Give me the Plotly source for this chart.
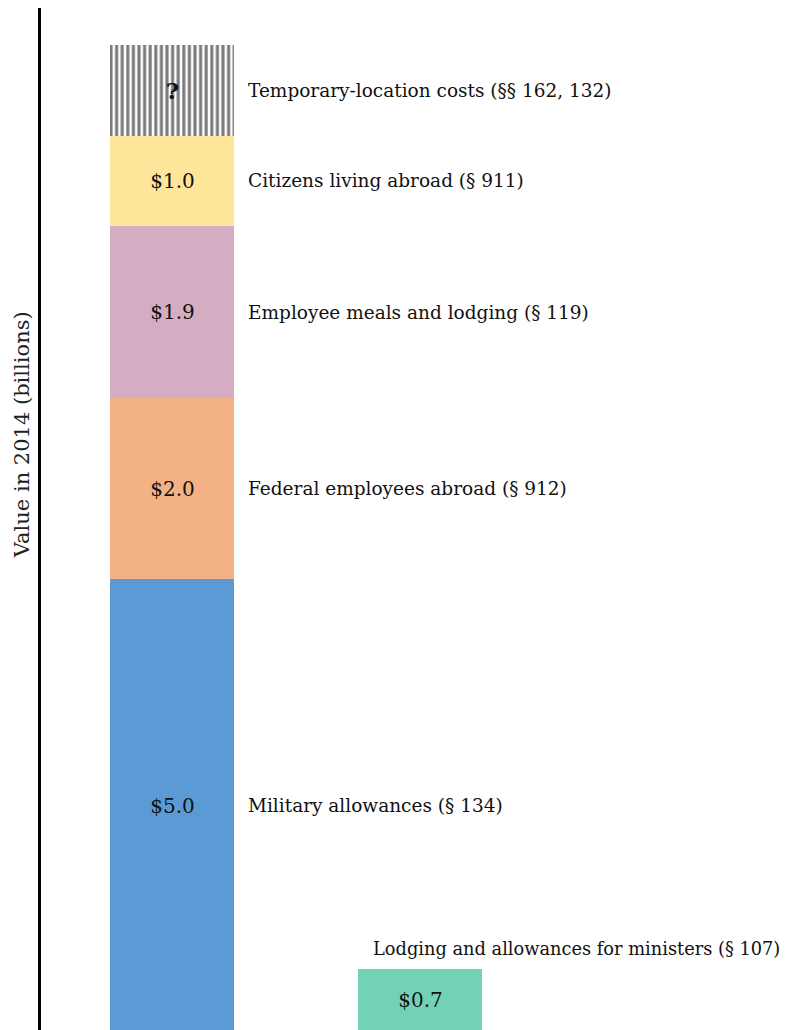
import plotly.graph_objects as go

# Data
segments = ["Military allowances (§ 134)", "Federal employees abroad (§ 912)",
            "Employee meals and lodging (§ 119)", "Citizens living abroad (§ 911)",
            "Temporary-location costs (§§ 162, 132)"]
values = [5.0, 2.0, 1.9, 1.0, 1.0]
value_labels = ["$5.0", "$2.0", "$1.9", "$1.0", "<b>?</b>"]
colors = ["#5B9BD5", "#F4B183", "#D5ADC3", "#FEE59A", "white"]
ministers_label = "Lodging and allowances for ministers (§ 107)"
ministers_value = 0.7
ministers_text = "$0.7"
ministers_color = "#73D2B5"
y_title = "Value in 2014 (billions)"

FONT = "DejaVu Serif"

fig = go.Figure()
for name, v, lab, c in zip(segments, values, value_labels, colors):
    marker = dict(color=c, line=dict(width=0))
    size = 20
    if lab == "<b>?</b>":
        marker["pattern"] = dict(shape="|", fgcolor="#7a7a7a", bgcolor="white",
                                 size=5.6, solidity=0.55, fgopacity=1)
        size = 23
    fig.add_trace(go.Bar(x=[0], y=[v], width=0.5, marker=marker, text=[lab],
                         textposition="inside", insidetextanchor="middle",
                         textangle=0,
                         textfont=dict(family=FONT, size=size, color="#111111"),
                         hoverinfo="skip", showlegend=False))

fig.add_trace(go.Bar(x=[1], y=[ministers_value], width=0.5,
                     marker=dict(color=ministers_color, line=dict(width=0)),
                     text=[ministers_text], textposition="inside",
                     insidetextanchor="middle", textangle=0,
                     textfont=dict(family=FONT, size=20, color="#111111"),
                     hoverinfo="skip", showlegend=False))

# side labels
cum = 0
for name, v in zip(segments, values):
    mid = cum + v / 2
    cum += v
    fig.add_annotation(x=0.295, y=mid, text=name, showarrow=False,
                       xanchor="left", yanchor="middle",
                       font=dict(family=FONT, size=18.5, color="#111111"))

fig.add_annotation(x=0.80, y=ministers_value, text=ministers_label, showarrow=False,
                   xanchor="left", yanchor="bottom", yshift=8,
                   font=dict(family=FONT, size=17.8, color="#111111"))

fig.add_annotation(xref="paper", yref="paper", x=-0.0252, y=0.583, text=y_title,
                   textangle=-90, showarrow=False, xanchor="center", yanchor="middle",
                   font=dict(family=FONT, size=21, color="#222222"))

# page body has an 8px default margin; the figure is sized to fill the rest
fig.update_layout(
    width=788, height=1022, barmode="stack",
    margin=dict(l=33, r=0, t=0, b=0, autoexpand=False),
    paper_bgcolor="white", plot_bgcolor="white",
    xaxis=dict(range=[-0.530, 2.514], showticklabels=False, showgrid=False,
               zeroline=False, showline=False, ticks="", automargin=False),
    yaxis=dict(range=[0.022, 11.31], showticklabels=False, showgrid=False,
               zeroline=False, showline=True, linecolor="black", linewidth=3,
               ticks="", automargin=False),
)

fig.write_html("out.html")
